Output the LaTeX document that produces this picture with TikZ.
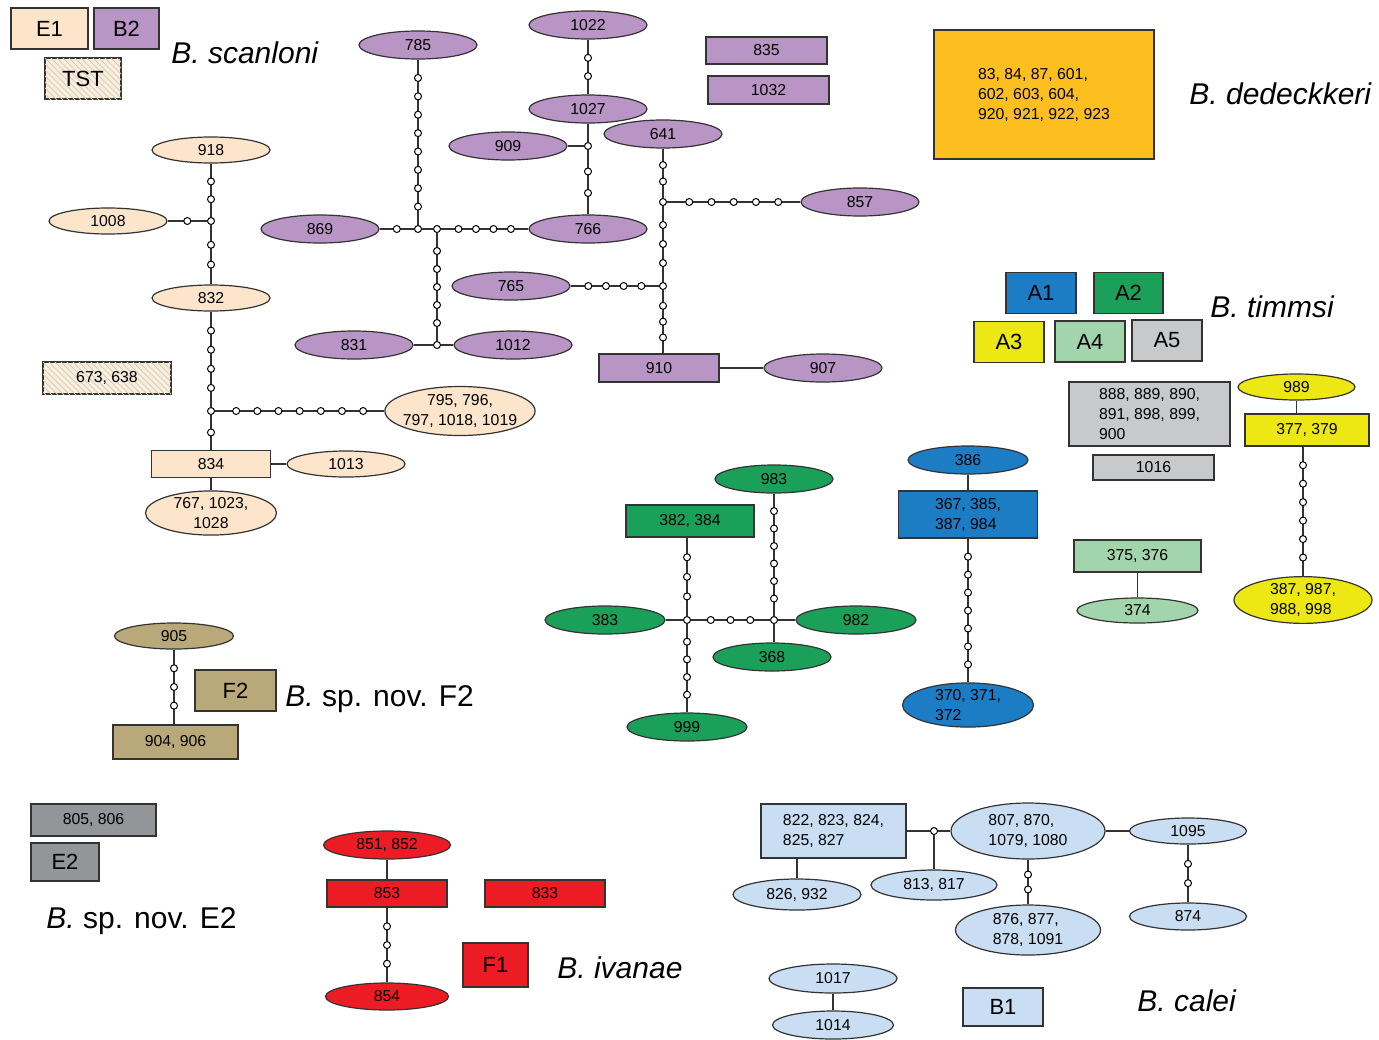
\documentclass[tikz,border=0pt]{standalone}
\usepackage{fontspec}
\setmainfont{Liberation Sans}
\usetikzlibrary{shapes.geometric,patterns}
\definecolor{peach}{HTML}{FDE5CC}
\definecolor{purp}{HTML}{B995C5}
\definecolor{tstbg}{HTML}{F6EFE2}
\definecolor{tsthatch}{HTML}{DDCDAE}
\definecolor{dedo}{HTML}{FDBF1F}
\definecolor{aoneblue}{HTML}{1C7DC4}
\definecolor{atwogreen}{HTML}{1BA05A}
\definecolor{athreeyellow}{HTML}{EDE814}
\definecolor{afourgreen}{HTML}{A2D5AB}
\definecolor{afivegrey}{HTML}{C8C9CB}
\definecolor{ftan}{HTML}{B9A97A}
\definecolor{egrey}{HTML}{939598}
\definecolor{fred}{HTML}{ED1C24}
\definecolor{calblue}{HTML}{C9DEF3}
\definecolor{linec}{HTML}{333333}
\newcommand\numfont{\fontsize{7.9}{10}\selectfont}
\newcommand\keyfont{\fontsize{11}{13}\selectfont}
\newcommand\specfont{\fontsize{15}{18}\selectfont}
% line with n mutation steps on it
\newcommand\mutpath[3]{\draw[link] (#1) -- (#2) foreach \mk [evaluate=\mk as \mpos using \mk/(#3+1)] in {1,...,#3} {node[mut,pos=\mpos]{}};}

\begin{document}
\begin{tikzpicture}[x=0.5pt,y=-0.5pt,font=\numfont,
   hap/.style={ellipse,draw=linec,line width=0.6pt,inner sep=0pt,minimum width=59pt,
               minimum height=14pt,align=center},
   grp/.style={rectangle,draw=linec,line width=0.7pt,inner sep=1pt,minimum width=60pt,
               minimum height=13.5pt,align=center},
   key/.style={rectangle,draw=linec,line width=0.7pt,font=\keyfont,minimum width=35pt,
               minimum height=20.5pt},
   hatch/.style={fill=tstbg,postaction={pattern=north west lines,pattern color=tsthatch}},
   spec/.style={anchor=base west,inner sep=0pt,font=\specfont},
   mut/.style={circle,draw=black,fill=white,line width=0.5pt,inner sep=0pt,minimum size=3.5pt},
   link/.style={draw=linec,line width=0.65pt}]
  \useasboundingbox (0,0) rectangle (1379,1039);

  % legend boxes
  \node[key,fill=peach,minimum width=38.5pt] (kE1) at (49.5,28.5) {E1};
  \node[key,fill=purp,minimum width=32.5pt] (kB2) at (126.5,28.5) {B2};
  \node[key,hatch,minimum width=38pt] (kTST) at (83,78.5) {TST};
  \node[key,fill=aoneblue] (kA1) at (1041,293) {A1};
  \node[key,fill=atwogreen,minimum width=34.5pt] (kA2) at (1128.5,293) {A2};
  \node[key,fill=athreeyellow] (kA3) at (1009,342) {A3};
  \node[key,fill=afourgreen] (kA4) at (1090,341.5) {A4};
  \node[key,fill=afivegrey] (kA5) at (1167,340.5) {A5};
  \node[key,fill=ftan,minimum width=40.5pt] (kF2) at (235.5,690.5) {F2};
  \node[key,fill=egrey,minimum width=34pt,minimum height=19pt] (kE2) at (65,862) {E2};
  \node[key,fill=fred,minimum width=32.5pt,minimum height=22pt] (kF1) at (495.5,965) {F1};
  \node[key,fill=calblue,minimum width=40pt,minimum height=19pt] (kB1) at (1003,1007) {B1};

  % species names
  \node[spec] (sScan) at (171,63) {\textit{B. scanloni}};
  \node[spec] (sDed) at (1189,104) {\textit{B. dedeckkeri}};
  \node[spec] (sTim) at (1210,317) {\textit{B. timmsi}};
  \node[spec] (sFtwo) at (285,706) {\textit{B.} sp. nov. F2};
  \node[spec] (sEtwo) at (46,928) {\textit{B.} sp. nov. E2};
  \node[spec] (sIva) at (557,978) {\textit{B. ivanae}};
  \node[spec] (sCal) at (1137,1011) {\textit{B. calei}};

  % B. scanloni, B2
  \node[hap,fill=purp] (n785) at (418,45) {785};
  \node[hap,fill=purp] (n1022) at (588,25) {1022};
  \node[hap,fill=purp] (n1027) at (588,109) {1027};
  \node[hap,fill=purp] (n909) at (508,146) {909};
  \node[hap,fill=purp] (n641) at (663,134) {641};
  \node[hap,fill=purp] (n766) at (588,229) {766};
  \node[hap,fill=purp] (n869) at (320,229) {869};
  \node[hap,fill=purp] (n765) at (511,286) {765};
  \node[hap,fill=purp] (n831) at (354,345) {831};
  \node[hap,fill=purp] (n1012) at (513,345) {1012};
  \node[hap,fill=purp] (n857) at (860,202) {857};
  \node[hap,fill=purp] (n907) at (823,368) {907};
  \node[grp,fill=purp,minimum height=14pt] (n910) at (659,368) {910};
  \node[grp,fill=purp,minimum width=60.5pt] (n835) at (766.5,50.5) {835};
  \node[grp,fill=purp,minimum width=60.5pt,minimum height=14pt] (n1032) at (768.5,90) {1032};
  \node[mut] (j1) at (418,229) {};
  \node[mut] (j2) at (437,229) {};
  \node[mut] (j3) at (437,345) {};
  \node[mut] (j4) at (588,146) {};
  \node[mut] (j5) at (663,202) {};
  \node[mut] (j6) at (663,286) {};
  \mutpath{n785}{j1}{8}
  \mutpath{n869}{j1}{1}
  \draw[link] (j1) -- (j2);
  \mutpath{j2}{n766}{4}
  \mutpath{j2}{j3}{5}
  \draw[link] (n831) -- (j3);
  \draw[link] (j3) -- (n1012);
  \mutpath{n1022}{n1027}{2}
  \draw[link] (n1027) -- (j4);
  \draw[link] (n909) -- (j4);
  \mutpath{j4}{n766}{2}
  \mutpath{n641}{j5}{2}
  \mutpath{j5}{j6}{3}
  \mutpath{j6}{j6 |- n910.north}{3}
  \mutpath{j5}{n857}{5}
  \mutpath{n765}{j6}{4}
  \draw[link] (n910) -- (n907);

  % B. scanloni, E1 and TST
  \node[hap,fill=peach,minimum height=13pt] (p918) at (211,150) {918};
  \node[hap,fill=peach,minimum height=13pt] (p1008) at (108,221) {1008};
  \node[hap,fill=peach,minimum height=13pt] (p832) at (211,298) {832};
  \node[hap,fill=peach,minimum width=73pt,minimum height=24.5pt,inner xsep=-2pt] (p795) at (460,411) {795, 796,\\797, 1018, 1019};
  \node[grp,fill=peach,minimum width=59.5pt] (p834) at (211,464) {834};
  \node[hap,fill=peach,minimum height=13pt] (p1013) at (346,464) {1013};
  \node[hap,fill=peach,minimum width=65.5pt,minimum height=22pt] (p767) at (211,513) {767, 1023,\\1028};
  \node[grp,hatch,minimum width=64pt,minimum height=16pt] (p673) at (107,378) {673, 638};
  \node[mut] (j7) at (211,221) {};
  \node[mut] (j8) at (211,411) {};
  \mutpath{p918}{j7}{2}
  \mutpath{p1008}{j7}{1}
  \mutpath{j7}{p832}{2}
  \mutpath{p832}{j8}{4}
  \mutpath{j8}{p834}{1}
  \mutpath{j8}{p795}{7}
  \draw[link] (p834) -- (p1013);
  \draw[link] (p834) -- (p767);

  % B. dedeckkeri
  \node[grp,fill=dedo,minimum width=110pt,minimum height=64.5pt,align=left] (d83) at (1044,94.5)
    {83, 84, 87, 601,\\602, 603, 604,\\920, 921, 922, 923};

  % B. timmsi, A1
  \node[hap,fill=aoneblue,minimum width=60pt] (b386) at (968,460) {386};
  \node[grp,fill=aoneblue,minimum width=69.5pt,minimum height=23.5pt,align=left] (b367) at (968,514.5) {367, 385,\\387, 984};
  \node[hap,fill=aoneblue,minimum width=65.5pt,minimum height=22pt,align=left] (b370) at (968,705) {370, 371,\\372};
  \draw[link] (b386) -- (b367);
  \mutpath{b367}{b370}{7}

  % B. timmsi, A2
  \node[hap,fill=atwogreen] (g983) at (774,479) {983};
  \node[grp,fill=atwogreen,minimum width=64pt,minimum height=16pt] (g382) at (690,521) {382, 384};
  \node[hap,fill=atwogreen,minimum width=60pt] (g383) at (605,620) {383};
  \node[hap,fill=atwogreen,minimum width=60pt] (g982) at (856,620) {982};
  \node[hap,fill=atwogreen] (g368) at (772,657) {368};
  \node[hap,fill=atwogreen,minimum width=60pt] (g999) at (687,727) {999};
  \node[mut] (jg1) at (687,620) {};
  \node[mut] (jg2) at (774,620) {};
  \mutpath{jg1 |- g382.south}{jg1}{3}
  \draw[link] (g383) -- (jg1);
  \mutpath{jg1}{jg2}{3}
  \mutpath{g983}{jg2}{6}
  \draw[link] (jg2) -- (g982);
  \draw[link] (jg2) -- (jg2 |- g368.north);
  \mutpath{jg1}{g999}{4}

  % B. timmsi, A3
  \node[hap,fill=athreeyellow,minimum width=58.5pt,minimum height=13pt] (y989) at (1296.5,387) {989};
  \node[grp,fill=athreeyellow,minimum width=62pt,minimum height=16pt] (y377) at (1307,430) {377, 379};
  \node[hap,fill=athreeyellow,minimum width=69pt,minimum height=23pt,align=left] (y387) at (1303,600) {387, 987,\\988, 998};
  \draw[link] (y989) -- (y989 |- y377.north);
  \mutpath{y387 |- y377.south}{y387}{6}

  % B. timmsi, A4 and A5
  \node[grp,fill=afivegrey,minimum width=80.5pt,minimum height=32pt,align=left] (c888) at (1149.5,414) {888, 889, 890,\\891, 898, 899,\\900};
  \node[grp,fill=afivegrey,minimum width=60.5pt,minimum height=12.5pt] (c1016) at (1153.5,467.5) {1016};
  \node[grp,fill=afourgreen,minimum width=63.5pt,minimum height=16pt] (l375) at (1137.5,556) {375, 376};
  \node[hap,fill=afourgreen,minimum width=60.5pt,minimum height=12.5pt] (l374) at (1137.5,610.5) {374};
  \draw[link] (l375) -- (l374);

  % B. sp. nov. F2
  \node[hap,fill=ftan,minimum width=59.5pt,minimum height=13pt] (f905) at (174,636) {905};
  \node[grp,fill=ftan,minimum width=62.5pt,minimum height=17pt] (f904) at (175.5,742) {904, 906};
  \mutpath{f905}{f905 |- f904.north}{3}

  % B. sp. nov. E2
  \node[grp,fill=egrey,minimum width=62.5pt,minimum height=16pt] (e805) at (93.5,820) {805, 806};

  % B. ivanae
  \node[hap,fill=fred,minimum width=63.5pt] (r851) at (387,845) {851, 852};
  \node[grp,fill=fred] (r853) at (387,893.5) {853};
  \node[grp,fill=fred] (r833) at (545,893.5) {833};
  \node[hap,fill=fred,minimum width=61.5pt,minimum height=13.5pt] (r854) at (387,996.5) {854};
  \draw[link] (r851) -- (r853);
  \mutpath{r853}{r854}{3}

  % B. calei
  \node[grp,fill=calblue,minimum width=72.5pt,minimum height=27pt,align=left] (k822) at (833.5,831) {822, 823, 824,\\825, 827};
  \node[hap,fill=calblue,minimum width=77pt,minimum height=28pt,align=left] (k807) at (1028,831) {807, 870,\\1079, 1080};
  \node[hap,fill=calblue,minimum width=63pt,minimum height=15pt] (k813) at (934,885) {813, 817};
  \node[hap,fill=calblue,minimum width=64pt,minimum height=15.5pt] (k826) at (797,894.5) {826, 932};
  \node[hap,fill=calblue,minimum width=58.5pt,minimum height=13pt] (k1095) at (1188,831) {1095};
  \node[hap,fill=calblue,minimum width=58.5pt,minimum height=13.5pt] (k874) at (1188,916.5) {874};
  \node[hap,fill=calblue,minimum width=72.5pt,minimum height=25pt,align=left] (k876) at (1028,930) {876, 877,\\878, 1091};
  \node[hap,fill=calblue,minimum width=64pt,minimum height=14.5pt] (k1017) at (833,978.5) {1017};
  \node[hap,fill=calblue,minimum width=60.5pt,minimum height=14pt] (k1014) at (833,1025) {1014};
  \node[mut] (kj) at (934,831) {};
  \draw[link] (k822) -- (kj);
  \draw[link] (kj) -- (k807);
  \draw[link] (kj) -- (k813);
  \draw[link] (k826 |- k822.south) -- (k826);
  \draw[link] (k807) -- (k1095);
  \mutpath{k1095}{k874}{2}
  \mutpath{k807}{k876}{2}
  \draw[link] (k1017) -- (k1014);
\end{tikzpicture}
\end{document}
